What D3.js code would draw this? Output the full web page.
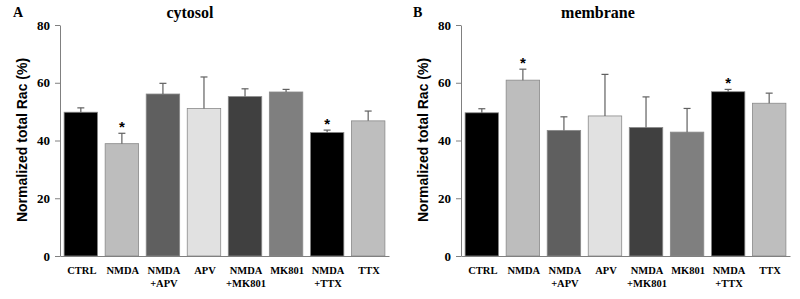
<!DOCTYPE html>
<html>
<head>
<meta charset="utf-8">
<script src="https://cdn.jsdelivr.net/npm/d3@7"></script>
<style>
html,body{margin:0;padding:0;background:#fff;}
svg{display:block;}
</style>
</head>
<body>
<svg id="chart" width="800" height="299"></svg>
<script>
const categories = ["CTRL", "NMDA", "NMDA\n+APV", "APV", "NMDA\n+MK801", "MK801", "NMDA\n+TTX", "TTX"];
const barColors = ["#000000", "#bdbdbd", "#5f5f5f", "#e1e1e1", "#404040", "#7f7f7f", "#000000", "#bebebe"];
const cytosolValues = [49.8, 38.9, 56.1, 51.1, 55.2, 56.8, 42.8, 46.8];
const cytosolErrors = [1.5, 3.6, 3.7, 10.9, 2.7, 0.9, 0.8, 3.4];
const cytosolStars = [false, true, false, false, false, false, true, false];
const membraneValues = [49.6, 60.9, 43.5, 48.5, 44.5, 42.9, 56.9, 52.9];
const membraneErrors = [1.4, 3.8, 4.7, 14.4, 10.6, 8.2, 0.8, 3.5];
const membraneStars = [false, true, false, false, false, false, true, false];
const yTicks = [0, 20, 40, 60, 80];
const yLabel = "Normalized total Rac (%)";

const svg = d3.select("#chart");

function panel(opts) {
  const g = svg.append("g");
  const x = d3.scaleBand().domain(categories).range([opts.x0, opts.x0 + 329])
    .paddingInner(0.185).paddingOuter(0.1);
  const y = d3.scaleLinear().domain([0, 80]).range([256, 25]);

  // bars
  g.selectAll("rect.bar").data(opts.values).enter().append("rect")
    .attr("x", (d, i) => x(categories[i]))
    .attr("y", d => y(d))
    .attr("width", x.bandwidth())
    .attr("height", d => y(0) - y(d))
    .attr("fill", (d, i) => barColors[i])
    .attr("stroke", "#8a8a8a")
    .attr("stroke-width", 0.8);

  // error bars (upper only)
  const eg = g.selectAll("g.err").data(opts.values).enter().append("g");
  eg.append("line")
    .attr("x1", (d, i) => x(categories[i]) + x.bandwidth() / 2)
    .attr("x2", (d, i) => x(categories[i]) + x.bandwidth() / 2)
    .attr("y1", d => y(d))
    .attr("y2", (d, i) => y(d + opts.errors[i]))
    .attr("stroke", "#606060").attr("stroke-width", 1.2);
  eg.append("line")
    .attr("x1", (d, i) => x(categories[i]) + x.bandwidth() / 2 - 3.5)
    .attr("x2", (d, i) => x(categories[i]) + x.bandwidth() / 2 + 3.5)
    .attr("y1", (d, i) => y(d + opts.errors[i]))
    .attr("y2", (d, i) => y(d + opts.errors[i]))
    .attr("stroke", "#606060").attr("stroke-width", 1.2);

  // stars
  g.selectAll("text.star").data(opts.values).enter()
    .filter((d, i) => opts.stars[i])
    .append("text")
    .attr("x", (d) => x(categories[opts.values.indexOf(d)]) + x.bandwidth() / 2)
    .attr("y", (d) => y(d + opts.errors[opts.values.indexOf(d)]) - 1)
    .attr("text-anchor", "middle")
    .attr("font-family", "Liberation Sans, Arial, sans-serif")
    .attr("font-weight", "bold")
    .attr("font-size", 15)
    .attr("fill", "#000")
    .text("*");

  // y axis
  const yAxis = d3.axisLeft(y).tickValues(yTicks).tickSize(5).tickPadding(5).tickSizeOuter(0);
  const ya = g.append("g").attr("transform", `translate(${opts.x0},0)`).call(yAxis);
  ya.select(".domain").attr("stroke", "#808080");
  ya.selectAll(".tick line").attr("stroke", "#808080");
  ya.selectAll(".tick text")
    .attr("font-family", "Liberation Serif, Times New Roman, serif")
    .attr("font-weight", "bold").attr("font-size", 13).attr("fill", "#000");

  // x axis line
  const xAxis = d3.axisBottom(x).tickSize(0).tickSizeOuter(0).tickFormat("");
  const xa = g.append("g").attr("transform", `translate(0,${y(0)})`).call(xAxis);
  xa.select(".domain").attr("stroke", "#808080");
  xa.selectAll(".tick text").remove();

  // category labels
  categories.forEach((c, i) => {
    const lines = c.split("\n");
    const t = g.append("text")
      .attr("x", x(c) + x.bandwidth() / 2 + 1)
      .attr("y", 274)
      .attr("text-anchor", "middle")
      .attr("font-family", "Liberation Serif, Times New Roman, serif")
      .attr("font-weight", "bold").attr("font-size", 10.5).attr("fill", "#000");
    lines.forEach((l, k) => {
      t.append("tspan").attr("x", x(c) + x.bandwidth() / 2 + 1).attr("dy", k === 0 ? 0 : 13).text(l);
    });
  });

  // y label
  g.append("text")
    .attr("transform", `translate(${opts.x0 - 33},140) rotate(-90)`)
    .attr("text-anchor", "middle")
    .attr("font-family", "Liberation Sans, Arial, sans-serif")
    .attr("font-weight", "bold").attr("font-size", 14).attr("fill", "#000")
    .text(yLabel);

  // title
  g.append("text")
    .attr("x", opts.titleX).attr("y", 18)
    .attr("text-anchor", "middle")
    .attr("font-family", "Liberation Serif, Times New Roman, serif")
    .attr("font-weight", "bold").attr("font-size", 16).attr("fill", "#000")
    .text(opts.title);

  // panel letter
  g.append("text")
    .attr("x", opts.letterX).attr("y", 17)
    .attr("font-family", "Liberation Serif, Times New Roman, serif")
    .attr("font-weight", "bold").attr("font-size", 14).attr("fill", "#000")
    .text(opts.letter);
}

panel({x0: 60, values: cytosolValues, errors: cytosolErrors, stars: cytosolStars,
       title: "cytosol", titleX: 190, letter: "A", letterX: 13});
panel({x0: 461, values: membraneValues, errors: membraneErrors, stars: membraneStars,
       title: "membrane", titleX: 598, letter: "B", letterX: 413});
</script>
</body>
</html>
